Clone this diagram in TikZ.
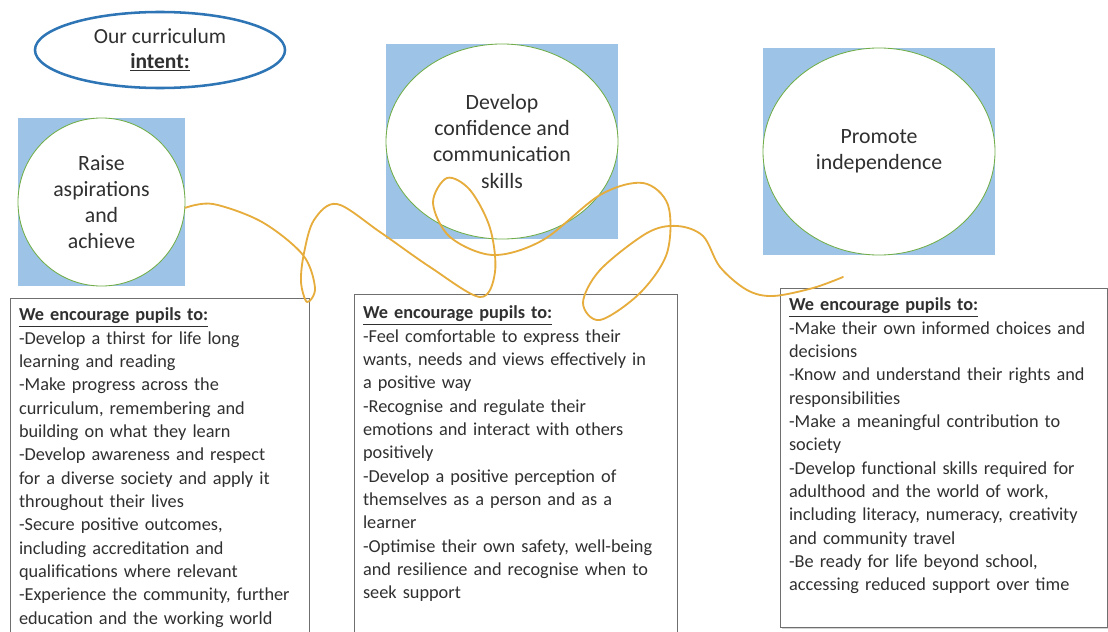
\documentclass[tikz,border=0pt]{standalone}
\usepackage{fontspec}
\setmainfont{Carlito}
\usetikzlibrary{shapes.geometric, shadows}
\definecolor{intentblue}{HTML}{2E75B6}
\definecolor{aimgreen}{HTML}{70AD47}
\definecolor{panelblue}{HTML}{9DC3E6}
\definecolor{threadgold}{HTML}{E6AD3C}
\definecolor{boxline}{HTML}{6F6F6F}
\definecolor{inktext}{HTML}{303030}

\begin{document}
\begin{tikzpicture}[
    x=0.025cm, y=-0.025cm,
    font=\fontsize{13}{16.6}\selectfont, text=inktext,
    intent/.style={ellipse, draw=intentblue, line width=1.8pt, fill=white, align=center,
        minimum width=6.25cm, minimum height=1.9cm, inner sep=0pt, font=\fontsize{15.3}{17.8}\selectfont},
    panel/.style={rectangle, fill=panelblue, inner sep=0pt},
    aim/.style={ellipse, draw=aimgreen, line width=0.6pt, fill=white, align=center,
        inner sep=0pt, font=\fontsize{15.5}{18.5}\selectfont},
    pupils/.style={rectangle, draw=boxline, line width=0.9pt, fill=white, anchor=north west,
        align=left, inner xsep=0.21cm, text height=0.33cm},
    thread/.style={threadgold, line width=1.3pt, line cap=round, line join=round}
]
\useasboundingbox (0,0) rectangle (1108,631);
\clip (0,0) rectangle (1108,631);

\node[intent] (intent) at (160,50) {Our curriculum\\\textbf{\underline{intent:}}};

% three aims, each a circle on a blue square
\node[panel, minimum width=4.175cm, minimum height=4.2cm] (raisebg) at (101.5,202) {};
\node[aim, minimum width=4.175cm, minimum height=4.2cm] (raise) at (raisebg) {Raise\\aspirations\\and\\achieve};

\node[panel, minimum width=5.8cm, minimum height=4.875cm] (confbg) at (502,141.5) {};
\node[aim, minimum width=5.8cm, minimum height=4.875cm] (conf) at (confbg) {Develop\\confidence and\\communication\\skills};

\node[panel, minimum width=5.8cm, minimum height=5.175cm] (indepbg) at (879,151.5) {};
\node[aim, minimum width=5.8cm, minimum height=5.175cm] (indep) at (indepbg) {Promote\\independence};

% what pupils are encouraged to do
\node[pupils, text width=7.055cm, inner ysep=0.225cm, text depth=9cm] (raisetxt) at (10,298) {%
\textbf{\underline{We encourage pupils to:}}\\
-Develop a thirst for life long\\
learning and reading\\
-Make progress across the\\
curriculum, remembering and\\
building on what they learn\\
-Develop awareness and respect\\
for a diverse society and apply it\\
throughout their lives\\
-Secure positive outcomes,\\
including accreditation and\\
qualifications where relevant\\
-Experience the community, further\\
education and the working world};

\node[pupils, text width=7.655cm, inner ysep=0.275cm, text depth=9cm] (conftxt) at (354,294) {%
\textbf{\underline{We encourage pupils to:}}\\
-Feel comfortable to express their\\
wants, needs and views effectively in\\
a positive way\\
-Recognise and regulate their\\
emotions and interact with others\\
positively\\
-Develop a positive perception of\\
themselves as a person and as a\\
learner\\
-Optimise their own safety, well-being\\
and resilience and recognise when to\\
seek support};

\node[pupils, text width=7.755cm, inner ysep=0.225cm, text depth=7.695cm,
    drop shadow={shadow xshift=0.7pt, shadow yshift=-0.9pt, opacity=0.35}] (indeptxt) at (780,288) {%
\textbf{\underline{We encourage pupils to:}}\\
-Make their own informed choices and\\
decisions\\
-Know and understand their rights and\\
responsibilities\\
-Make a meaningful contribution to\\
society\\
-Develop functional skills required for\\
adulthood and the world of work,\\
including literacy, numeracy, creativity\\
and community travel\\
-Be ready for life beyond school,\\
accessing reduced support over time};

% the winding thread from the first aim
\coordinate (threadend) at (843,277);
\draw[thread] plot[smooth, tension=0.55] coordinates {
    (raise.-4) (213,204) (262,222) (303,255) (315,288) (307,302) (301,282)
    (304,253) (314,220) (337,204) (380,232) (430,267) (480,297) (495,272)
    (490,228) (470,190) (447,178) (433,203) (450,237) (493,255) (543,240)
    (600,195) (643,183) (668,205) (667,253) (640,293) (600,320) (583,303)
    (600,270) (647,233) (677,226) (703,236) (720,267) (747,290) (773,296)
    (813,288) (threadend)};
\end{tikzpicture}
\end{document}
